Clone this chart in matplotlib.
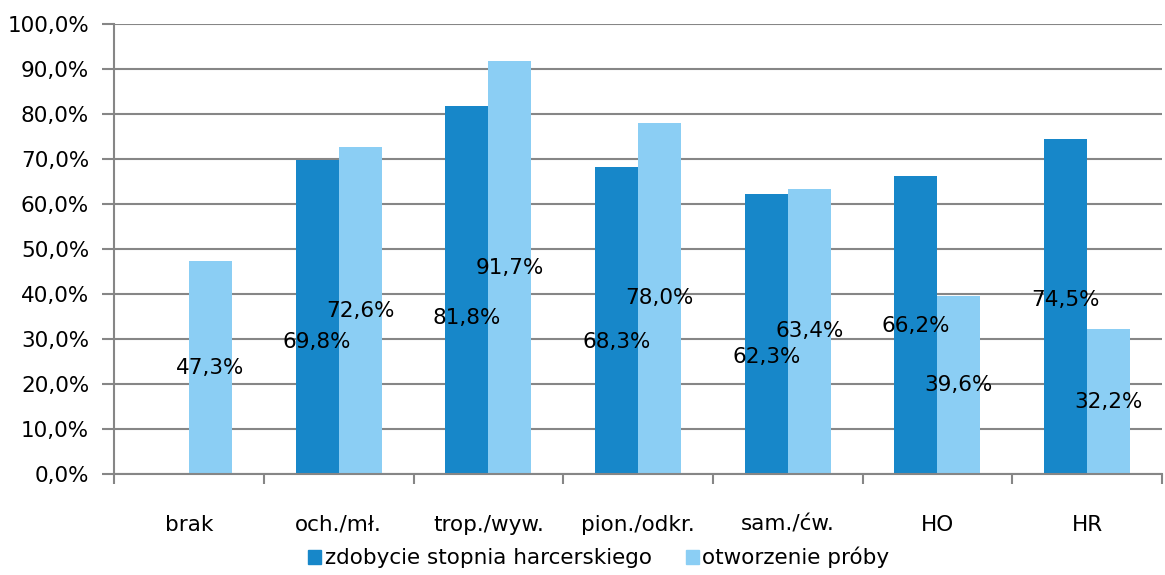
import matplotlib
matplotlib.use("Agg")
import matplotlib.pyplot as plt
import numpy as np

categories = ["brak", "och./mł.", "trop./wyw.", "pion./odkr.", "sam./ćw.", "HO", "HR"]
stopien = [None, 69.8, 81.8, 68.3, 62.3, 66.2, 74.5]
proba = [47.3, 72.6, 91.7, 78.0, 63.4, 39.6, 32.2]
# heights where the labels of the dark series were placed in the original
stopien_label_y = [None, 29.3, 34.7, 29.3, 26.0, 32.9, 38.7]

dark = "#1787C9"
light = "#8BCEF4"
grey = "#868686"
fs = 15.5

plt.rcParams['font.family'] = ['DejaVu Sans']

fig = plt.figure(figsize=(11.65, 5.75), dpi=100)
ax = fig.add_axes([0.098, 0.1757, 0.8994, 0.7826])

x = np.arange(len(categories))
w = 0.287
for i in range(len(categories)):
    if stopien[i] is not None:
        ax.bar(x[i] - w / 2, stopien[i], w, color=dark, zorder=3)
        ax.text(x[i] - w / 2, stopien_label_y[i], f"{stopien[i]:.1f}%".replace(".", ","),
                ha="center", va="center", fontsize=fs, zorder=4)
    ax.bar(x[i] + w / 2, proba[i], w, color=light, zorder=3)
    ax.text(x[i] + w / 2, proba[i] / 2, f"{proba[i]:.1f}%".replace(".", ","),
            ha="center", va="center", fontsize=fs, zorder=4)

ax.set_xlim(-0.5, len(categories) - 0.5)
ax.set_ylim(0, 100)
ax.set_yticks(np.arange(0, 101, 10))
ax.set_yticklabels([f"{v:.1f}%".replace(".", ",") for v in np.arange(0, 101, 10)], fontsize=fs)
ax.set_xticks(np.arange(-0.5, len(categories), 1))
ax.set_xticklabels([])
ax.set_xticks(x, minor=True)
ax.set_xticklabels(categories, minor=True, fontsize=fs, va="center_baseline")
ax.tick_params(axis="x", which="minor", length=0, pad=35)
ax.tick_params(axis="x", which="major", length=7, color=grey, width=1.5)
ax.tick_params(axis="y", length=9, color=grey, width=1.5, pad=9)
ax.yaxis.grid(True, color=grey, linewidth=1.5, zorder=0)

for s in ["top", "right"]:
    ax.spines[s].set_visible(False)
for s in ["left", "bottom"]:
    ax.spines[s].set_color(grey)
    ax.spines[s].set_linewidth(1.5)
ax.spines["bottom"].set_zorder(5)

h1 = plt.Rectangle((0, 0), 1, 1, color=dark)
h2 = plt.Rectangle((0, 0), 1, 1, color=light)
fig.legend([h1, h2], ["zdobycie stopnia harcerskiego", "otworzenie próby"],
           loc="center", bbox_to_anchor=(0.514, 0.03), ncol=2, frameon=False,
           fontsize=fs, handlelength=0.6, handleheight=0.6, handletextpad=0.15,
           columnspacing=1.6)

fig.savefig("out.png", dpi=100)
